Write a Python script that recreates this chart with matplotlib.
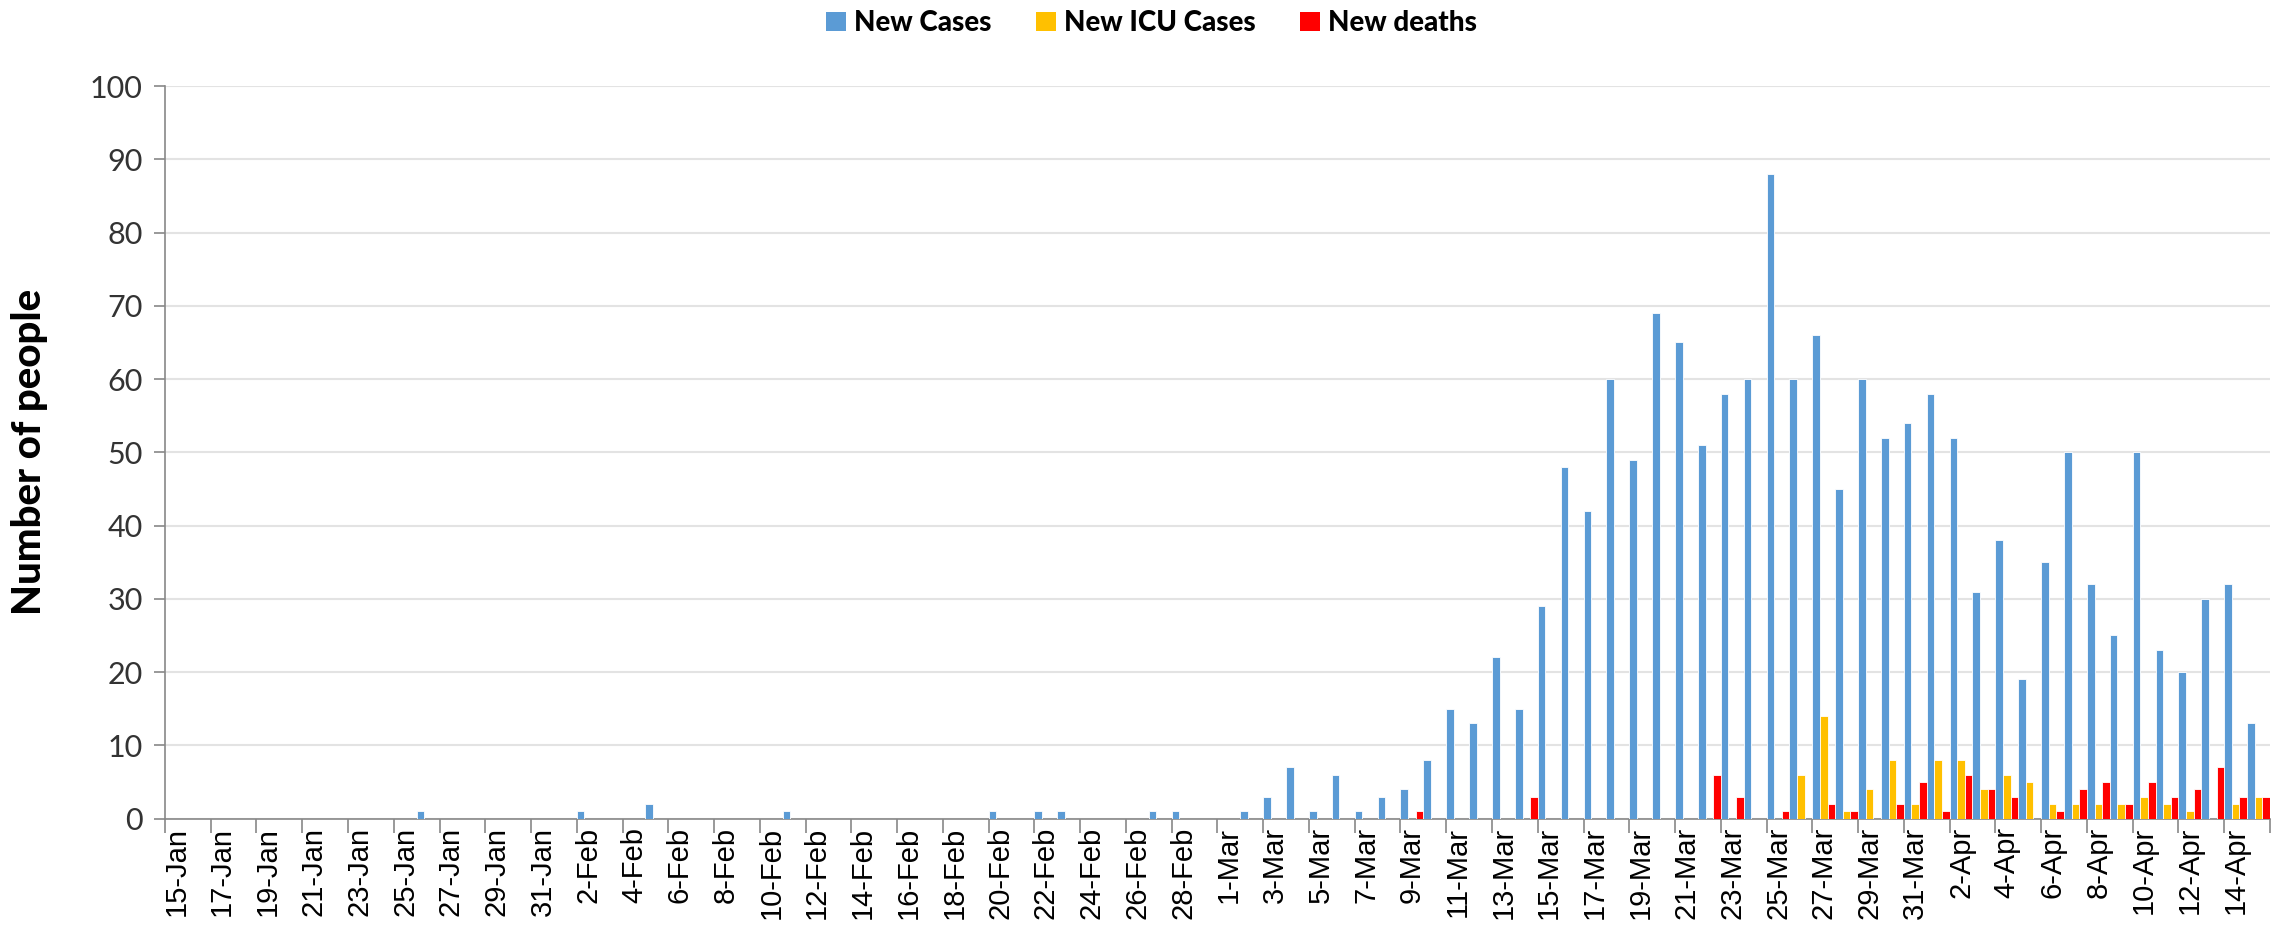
import numpy as np
import pandas as pd
import matplotlib
matplotlib.use("Agg")
import matplotlib.pyplot as plt
from matplotlib.patches import Patch

# daily categories 15-Jan .. 15-Apr
dates = pd.date_range("2020-01-15", "2020-04-15", freq="D")
day_labels = [f"{d.day}-{d.strftime('%b')}" for d in dates]

new_cases = [0, 0, 0, 0, 0, 0, 0, 0, 0, 0,
             0, 1, 0, 0, 0, 0, 0, 0, 1, 0,
             0, 2, 0, 0, 0, 0, 0, 1, 0, 0,
             0, 0, 0, 0, 0, 0, 1, 0, 1, 1,
             0, 0, 0, 1, 1, 0, 0, 1, 3, 7,
             1, 6, 1, 3, 4, 8, 15, 13, 22, 15,
             29, 48, 42, 60, 49, 69, 65, 51, 58, 60,
             88, 60, 66, 45, 60, 52, 54, 58, 52, 31,
             38, 19, 35, 50, 32, 25, 50, 23, 20, 30,
             32, 13]
new_icu = [0] * 70 + [0, 6, 14, 1, 4, 8, 2, 8, 8, 4,
                      6, 5, 2, 2, 2, 2, 3, 2, 1, 0,
                      2, 3]
new_deaths = [0] * 50 + [0, 0, 0, 0, 1, 0, 0, 0, 0, 3,
                         0, 0, 0, 0, 0, 0, 0, 6, 3, 0,
                         1, 0, 2, 1, 0, 2, 5, 1, 6, 4,
                         3, 0, 1, 4, 5, 2, 5, 3, 4, 7,
                         3, 3]

series_names = ["New Cases", "New ICU Cases", "New deaths"]
colors = ["#5B9BD5", "#FFC000", "#FF0000"]

calibri_like = ["Lato", "DejaVu Sans"]

fig = plt.figure(figsize=(22.85, 9.26), dpi=100)
ax = fig.add_axes([0.0722, 0.116, 0.9212, 0.791])

x = np.arange(len(dates))
w = 1 / 3
for i, (vals, c) in enumerate(zip([new_cases, new_icu, new_deaths], colors)):
    ax.bar(x + i * w, vals, width=w, align="edge", color=c,
           edgecolor="white", linewidth=0.6, zorder=3)

ax.set_xlim(0, len(dates))
ax.set_ylim(0, 100)
ax.set_yticks(range(0, 101, 10))
ax.yaxis.grid(True, color="#E3E3E3", linewidth=1.5, zorder=0)

# tick marks every 2 days, labels centred on the first day of each pair
ax.set_xticks(np.arange(0, len(dates) + 1, 2))
ax.set_xticklabels([])
ax.set_xticks(x[::2] + 0.5, minor=True)
ax.set_xticklabels(day_labels[::2], minor=True, rotation=90,
                   fontsize=21, family=["Liberation Sans", "DejaVu Sans"])
ax.tick_params(axis="x", which="minor", length=0, pad=6)
ax.tick_params(axis="x", which="major", length=10, width=1.2, color="#888888")
ax.tick_params(axis="y", length=8, width=1.2, color="#888888", labelsize=22,
               labelcolor="#333333", pad=8)
for lab in ax.get_yticklabels():
    lab.set_family(calibri_like)

for s in ["top", "right"]:
    ax.spines[s].set_visible(False)
for s in ["left", "bottom"]:
    ax.spines[s].set_color("#888888")
    ax.spines[s].set_linewidth(1.2)

ax.set_ylabel("Number of people", fontsize=29, fontweight="black",
              family=calibri_like, labelpad=30)

handles = [Patch(facecolor=c, edgecolor="none") for c in colors]
fig.legend(handles, series_names, loc="center", bbox_to_anchor=(0.504, 0.975),
           ncol=3, frameon=False, handlelength=0.7, handleheight=0.7,
           handletextpad=0.3, columnspacing=1.6,
           prop={"family": calibri_like, "weight": "black", "size": 20})

fig.savefig("out.png", dpi=100)
